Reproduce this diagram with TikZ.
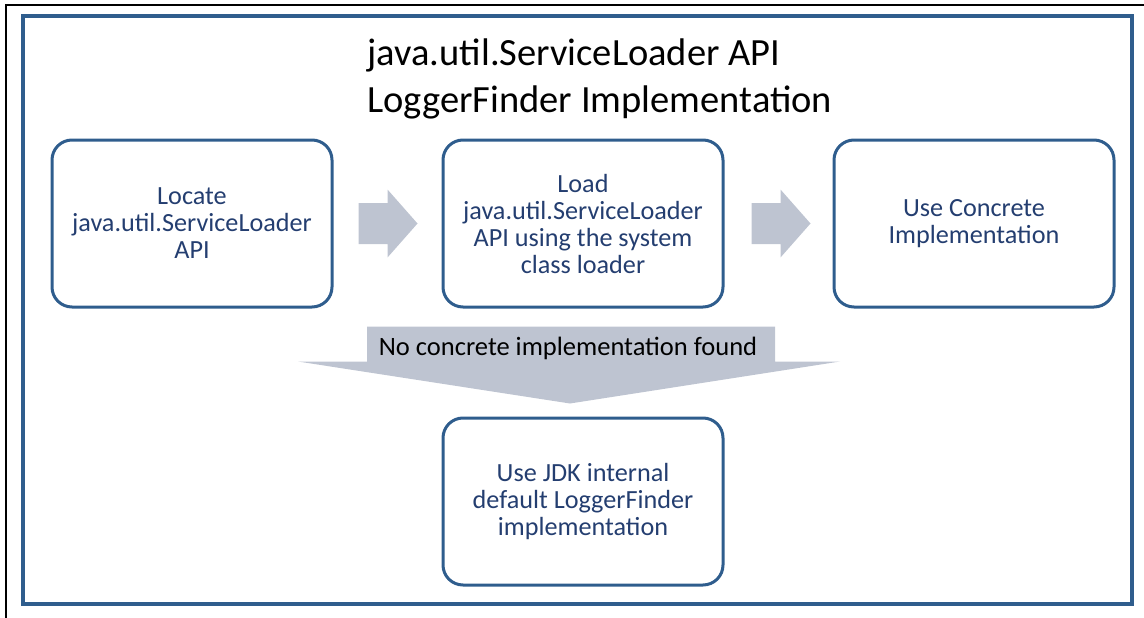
\documentclass[tikz,border=0pt]{standalone}
\usepackage{fontspec}
\setmainfont{Carlito}
\usetikzlibrary{calc,positioning}
\definecolor{boxblue}{RGB}{47,93,141}
\definecolor{textblue}{RGB}{36,62,112}
\definecolor{arrowgray}{RGB}{190,196,209}
\tikzset{
  stepbox/.style={draw=boxblue, line width=3pt, rounded corners=20pt,
    minimum width=280pt, minimum height=167pt, inner sep=0pt,
    align=center, text=textblue, font=\fontsize{26.2}{27}\selectfont},
}

\begin{document}
\begin{tikzpicture}[x=1pt,y=-1pt]
  \useasboundingbox (0,0) rectangle (1144,618);
  \draw[line width=2.5pt] (1144,5) -- (6,5) -- (6,618);
  \draw[boxblue, line width=4pt] (22.5,16.5) rectangle (1132,604);
  \node[anchor=west, align=left, font=\fontsize{38.5}{47}\selectfont] at (364,78.5) (title) {java.util.ServiceLoader API\\LoggerFinder Implementation};
  \node[stepbox] at (192,223.5) (locate) {Locate\\java.util.ServiceLoader\\API};
  \node[stepbox] at (583,223.5) (load) {Load\\java.util.ServiceLoader\\API using the system\\class loader};
  \node[stepbox] at (974,223.5) (useimpl) {Use Concrete\\Implementation};
  \node[stepbox] at (583,501.5) (usejdk) {Use JDK internal\\default LoggerFinder\\implementation};
  \coordinate (a1) at ($(locate.east)!0.5!(load.west)$);
  \coordinate (a2) at ($(load.east)!0.5!(useimpl.west)+(2,0)$);
  \foreach \a in {a1,a2}
    \fill[arrowgray] ($(\a)+(-29,-20.5)$) -- ($(\a)+(0,-20.5)$) -- ($(\a)+(0,-34)$) -- ($(\a)+(30,0)$)
      -- ($(\a)+(0,34)$) -- ($(\a)+(0,20.5)$) -- ($(\a)+(-29,20.5)$) -- cycle;
  \coordinate (tip) at ($(usejdk.north)+(-13,-13)$);
  \fill[arrowgray] ($(tip)+(-203,-77)$) -- ($(tip)+(205,-77)$) -- ($(tip)+(205,-42)$) -- ($(tip)+(270,-42)$)
    -- (tip) -- ($(tip)+(-272,-42)$) -- ($(tip)+(-203,-42)$) -- cycle;
  \node[font=\fontsize{26.5}{27}\selectfont] at ($(tip)+(-2,-55)$) (nofound) {No concrete implementation found};
\end{tikzpicture}
\end{document}
